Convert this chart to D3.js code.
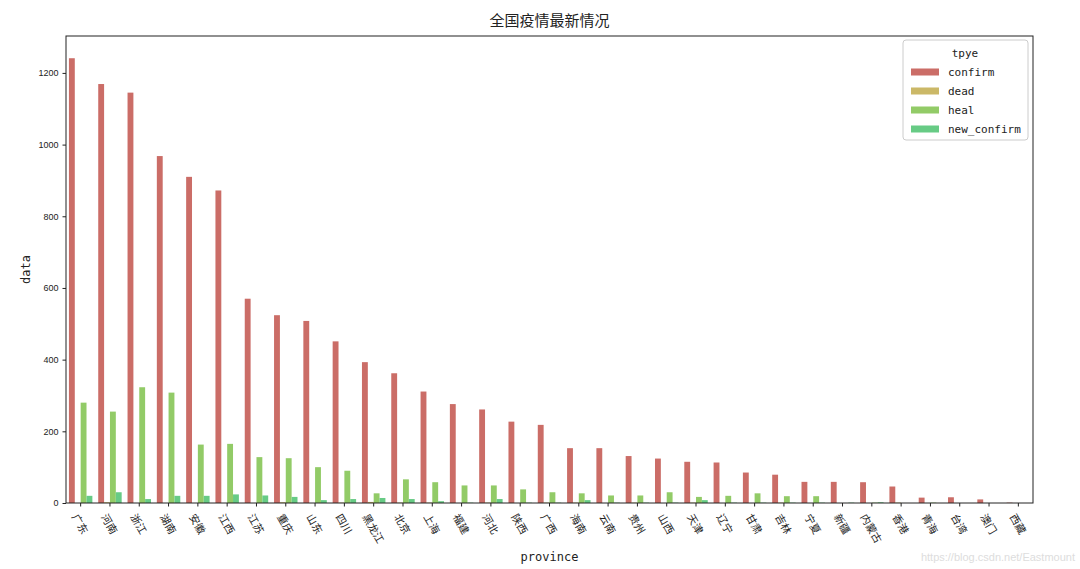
<!DOCTYPE html>
<html><head><meta charset="utf-8">
<script src="https://cdn.jsdelivr.net/npm/d3@7"></script>
<style>body{margin:0;background:#fff}svg{display:block}</style>
</head><body>
<script>
const provinces = ["广东","河南","浙江","湖南","安徽","江西","江苏","重庆","山东","四川","黑龙江","北京","上海","福建","河北","陕西","广西","海南","云南","贵州","山西","天津","辽宁","甘肃","吉林","宁夏","新疆","内蒙古","香港","青海","台湾","澳门","西藏"];
const seriesNames = ["confirm","dead","heal","new_confirm"];
const confirm = [1241,1169,1145,968,910,872,570,524,508,451,393,362,311,276,261,227,218,153,153,131,124,115,113,85,79,59,59,58,46,15,16,10,1];
const dead = [0,2,0,0,0,0,0,2,0,1,3,1,1,0,1,0,1,1,0,1,0,1,0,0,1,0,0,0,1,0,0,0,0];
const heal = [280,255,323,308,163,165,128,125,100,90,27,66,58,49,49,38,30,27,21,21,30,17,20,27,19,19,0,1,0,1,0,0,0];
const newConfirm = [20,30,11,20,20,24,21,17,8,11,14,11,5,1,11,1,1,8,1,1,1,8,1,1,1,1,1,2,0,0,0,0,0];
const yTicks = [0,200,400,600,800,1000,1200];
const colors = ["#cb6d67","#cbb867","#92cb67","#67cb85"];

const W = 1080, H = 569;
const m = {left:66, right:1033, top:36, bottom:503};
const svg = d3.select("body").append("svg").attr("width",W).attr("height",H);
const cjk = "'Noto Sans CJK SC', sans-serif";
const mono = "'DejaVu Sans Mono', monospace";

const x0 = d3.scaleBand().domain(provinces).range([m.left,m.right]).paddingInner(0.2).paddingOuter(0.1);
const x1 = d3.scaleBand().domain(seriesNames).range([0,x0.bandwidth()]);
const y = d3.scaleLinear().domain([0,1303]).range([m.bottom,m.top]);

const allSeries = [confirm, dead, heal, newConfirm];
const g = svg.append("g");
seriesNames.forEach((s,si)=>{
  g.selectAll(null).data(provinces).enter().append("rect")
    .attr("x",p=>x0(p)+x1(s))
    .attr("width",x1.bandwidth())
    .attr("y",(p,i)=>y(allSeries[si][i]))
    .attr("height",(p,i)=>y(0)-y(allSeries[si][i]))
    .attr("fill",colors[si]);
});

// frame
svg.append("rect").attr("x",m.left).attr("y",m.top).attr("width",m.right-m.left).attr("height",m.bottom-m.top)
  .attr("fill","none").attr("stroke","#222").attr("stroke-width",1);

// y axis
const ya = svg.append("g").attr("transform",`translate(${m.left},0)`)
  .call(d3.axisLeft(y).tickValues(yTicks).tickSize(3.5).tickPadding(4).tickFormat(d3.format("d")));
ya.select(".domain").remove();
ya.selectAll("text").attr("font-family","'Liberation Sans', Arial, sans-serif").attr("font-size",9).attr("fill","#222");
ya.selectAll("line").attr("stroke","#222");

// x axis
const xa = svg.append("g").attr("transform",`translate(0,${m.bottom})`)
  .call(d3.axisBottom(x0).tickSize(3.5).tickFormat(""));
xa.select(".domain").remove();
xa.selectAll("line").attr("stroke","#222");

const fs = 10.5, ang = 60*Math.PI/180;
provinces.forEach(p=>{
  const L = p.length*fs;
  const cy = m.bottom + 9 + (L*Math.sin(ang) + fs*Math.cos(ang))/2;
  const cx = x0(p)+x0.bandwidth()/2;
  svg.append("text").attr("transform",`translate(${cx},${cy}) rotate(60)`)
    .attr("text-anchor","middle").attr("dominant-baseline","central")
    .attr("font-family",cjk).attr("font-size",fs).attr("fill","#222").text(p);
});

// titles
svg.append("text").attr("x",(m.left+m.right)/2).attr("y",26).attr("text-anchor","middle")
  .attr("font-family",cjk).attr("font-size",15).attr("fill","#222").text("全国疫情最新情况");
svg.append("text").attr("x",(m.left+m.right)/2).attr("y",561).attr("text-anchor","middle")
  .attr("font-family",mono).attr("font-size",12).attr("fill","#222").text("province");
svg.append("text").attr("transform",`translate(30,${(m.top+m.bottom)/2}) rotate(-90)`).attr("text-anchor","middle")
  .attr("font-family",mono).attr("font-size",12).attr("fill","#222").text("data");

// legend
const lg = svg.append("g").attr("transform","translate(903,40)");
lg.append("rect").attr("width",125).attr("height",100).attr("rx",3).attr("fill","#fff").attr("stroke","#ccc");
lg.append("text").attr("x",62).attr("y",17).attr("text-anchor","middle")
  .attr("font-family",mono).attr("font-size",11).attr("fill","#222").text("tpye");
seriesNames.forEach((s,i)=>{
  const yy = 32 + i*19;
  lg.append("rect").attr("x",8).attr("y",yy-3.5).attr("width",28).attr("height",7).attr("fill",colors[i]);
  lg.append("text").attr("x",45).attr("y",yy).attr("dominant-baseline","central")
    .attr("font-family",mono).attr("font-size",11).attr("fill","#222").text(s);
});

// watermark
svg.append("text").attr("x",1075).attr("y",561).attr("text-anchor","end")
  .attr("font-family","'Liberation Sans', Arial, sans-serif").attr("font-size",11).attr("fill","#ddd")
  .text("https://blog.csdn.net/Eastmount");
</script>
</body></html>
